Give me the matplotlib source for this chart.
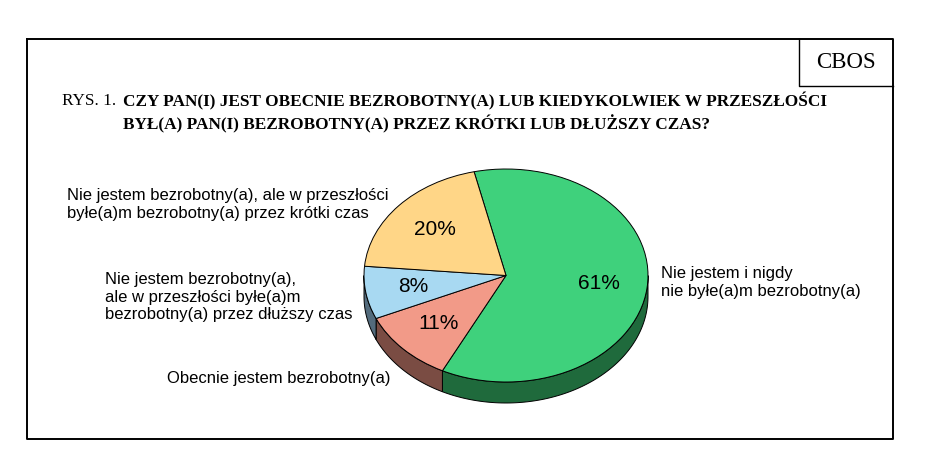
import matplotlib.pyplot as plt
import numpy as np

# data
labels = ["Nie jestem i nigdy\nnie byłe(a)m bezrobotny(a)",
          "Obecnie jestem bezrobotny(a)",
          "Nie jestem bezrobotny(a),\nale w przeszłości byłe(a)m\nbezrobotny(a) przez dłuższy czas",
          "Nie jestem bezrobotny(a), ale w przeszłości\nbyłe(a)m bezrobotny(a) przez krótki czas"]
values = [61, 11, 8, 20]
top_colors = ["#3fd17c", "#f29a88", "#a8d9f2", "#ffd687"]
side_colors = ["#1f6a3c", "#7a4c43", "#536b7c", "#8a7447"]

title1 = "CZY PAN(I) JEST OBECNIE BEZROBOTNY(A) LUB KIEDYKOLWIEK W PRZESZŁOŚCI"
title2 = "BYŁ(A) PAN(I) BEZROBOTNY(A) PRZEZ KRÓTKI LUB DŁUŻSZY CZAS?"

W, H = 925, 465
fig = plt.figure(figsize=(W / 100, H / 100), dpi=100)
ax = fig.add_axes([0, 0, 1, 1])
ax.set_xlim(0, W)
ax.set_ylim(H, 0)
ax.axis("off")

# frame and CBOS box
lw = 1.4
ax.plot([27, 893, 893, 27, 27], [39, 39, 439, 439, 39], color="black", lw=lw)
ax.plot([799, 799, 893], [39, 86, 86], color="black", lw=1.0)
ax.text(846, 62, "CBOS", fontsize=16.5, family="Liberation Serif", ha="center", va="center")

ax.text(62, 101, "RYS. 1. ", fontsize=12.4, family="Liberation Serif", va="center")
ax.text(123, 101, title1, fontsize=12.4, family="Liberation Serif", weight="bold", va="center")
ax.text(123, 124, title2, fontsize=12.4, family="Liberation Serif", weight="bold", va="center")

# pie: ellipse centre (506, 275.5), radii 142 x 106.5, depth 21 px
cx, cy, rx, ry, depth = 506, 275.5, 142, 106.5, 21
px0, px1, py0, py1 = 355, 657, 160, 412
pax = fig.add_axes([px0 / W, 1 - py1 / H, (px1 - px0) / W, (py1 - py0) / H])
start = 103
d = depth / ry

# side walls for the visible (front) half
bounds = start - 360 * np.concatenate([[0], np.cumsum(values)]) / sum(values)
for i in range(len(values)):
    hi, lo = bounds[i], bounds[i + 1]
    a, b = max(lo, -180), min(hi, 0)
    if a >= b:
        continue
    t = np.radians(np.linspace(a, b, 100))
    xs = np.concatenate([np.cos(t), np.cos(t[::-1])])
    ys = np.concatenate([np.sin(t), np.sin(t[::-1]) - d])
    pax.fill(xs, ys, color=side_colors[i], edgecolor="black", lw=0.7, zorder=1)

wedges, texts, autotexts = pax.pie(
    values, startangle=start, counterclock=False, colors=top_colors,
    autopct="%d%%", pctdistance=0.66,
    wedgeprops=dict(edgecolor="black", linewidth=0.7),
    textprops=dict(fontsize=15, family="Liberation Sans"))
for w in wedges:
    w.set_zorder(2)
for t in autotexts:
    t.set_zorder(3)
pax.set_aspect("auto")
pax.set_xlim((px0 - cx) / rx, (px1 - cx) / rx)
pax.set_ylim((cy - py1) / ry, (cy - py0) / ry)
pax.axis("off")

# category labels
lab_kw = dict(fontsize=12, family="Liberation Sans", va="center", ha="left", linespacing=1.22)
ax.text(661, 282.5, labels[0], **lab_kw)
ax.text(167, 378, labels[1], **lab_kw)
ax.text(105, 297, labels[2], **lab_kw)
ax.text(67, 204.5, labels[3], **lab_kw)

fig.savefig("out.png", dpi=100)
